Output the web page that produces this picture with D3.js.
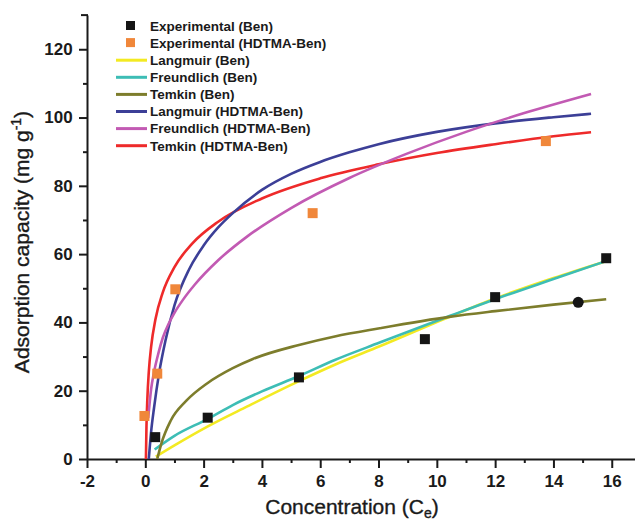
<!DOCTYPE html>
<html>
<head>
<meta charset="utf-8">
<script src="https://cdn.jsdelivr.net/npm/d3@7"></script>
<style>
  html, body { margin: 0; padding: 0; background: #fff; }
  svg { display: block; }
  text { font-family: "Liberation Sans", Arial, sans-serif; fill: #1a1a1a; }
</style>
</head>
<body>
<svg id="chart" width="635" height="523"></svg>
<script>
// ---------- data ----------
const xTicks = [-2, 0, 2, 4, 6, 8, 10, 12, 14, 16];
const yTicks = [0, 20, 40, 60, 80, 100, 120];

// Experimental points
const benC = [0.34, 2.14, 5.27, 9.59, 12.0, 15.81];
const benQ = [6.4, 12.1, 23.9, 35.1, 47.4, 58.8];
const benCircleC = [14.85];
const benCircleQ = [45.9];
const hdC = [-0.03, 0.41, 1.03, 5.74, 13.74];
const hdQ = [12.6, 25.0, 49.7, 72.0, 93.1];

// Model curves
const langBenC = [0.36, 1.0, 2.13, 3.5, 5.27, 6.5, 8.04, 10.48, 12.0, 14.0, 15.75];
const langBenQ = [0.7, 4.0, 9.5, 15.4, 22.8, 27.6, 33.0, 41.8, 47.0, 53.0, 57.8];
const freBenC = [0.32, 1.0, 2.13, 3.0, 4.0, 5.27, 6.5, 8.04, 10.48, 12.0, 14.0, 15.75];
const freBenQ = [2.8, 6.8, 11.7, 15.8, 19.8, 24.3, 29.0, 34.1, 42.0, 46.8, 52.7, 57.8];
const temBenC = [0.41, 0.55, 0.87, 1.4, 2.13, 3.0, 3.69, 5.27, 6.5, 8.04, 10.48, 12.0, 14.0, 15.81];
const temBenQ = [0.0, 4.5, 11.2, 17.0, 22.2, 26.6, 29.3, 33.4, 35.9, 38.3, 41.7, 43.3, 45.2, 46.8];

const langHdC = [0.12, 0.2, 0.3, 0.47, 0.7, 1.0, 1.5, 2.0, 2.5, 3.0, 4.0, 5.0, 6.0, 7.0, 8.0, 10.0, 12.0, 14.0, 15.29];
const langHdQ = [0.0, 8.0, 15.0, 25.0, 35.0, 45.0, 55.5, 62.5, 67.8, 72.0, 78.8, 83.5, 87.0, 89.8, 92.2, 95.8, 98.3, 100.1, 101.1];
const freHdC = [0.1, 0.2, 0.3, 0.45, 0.6, 0.8, 1.0, 1.29, 1.7, 2.5, 3.5, 5.0, 7.0, 9.0, 11.0, 13.0, 15.29];
const freHdQ = [12.0, 20.5, 25.5, 31.0, 35.5, 39.6, 42.8, 46.6, 51.1, 58.2, 65.2, 73.5, 82.3, 89.5, 95.8, 101.3, 106.9];
const temHdC = [0.021, 0.04, 0.07, 0.12, 0.2, 0.35, 0.6, 1.0, 1.6, 2.5, 4.0, 6.0, 8.0, 10.0, 12.0, 14.0, 15.29];
const temHdQ = [0.0, 9.5, 17.6, 25.5, 32.9, 41.0, 48.8, 56.2, 63.0, 69.5, 76.3, 82.2, 86.3, 89.6, 92.2, 94.5, 95.7];

const seriesNames = ["Experimental (Ben)", "Experimental (HDTMA-Ben)", "Langmuir (Ben)", "Freundlich (Ben)",
  "Temkin (Ben)", "Langmuir (HDTMA-Ben)", "Freundlich (HDTMA-Ben)", "Temkin (HDTMA-Ben)"];
const seriesColors = ["#151515", "#f0873a", "#f3ea22", "#3dbdb5", "#7d7d2c", "#3c3f97", "#c25ab3", "#ee2a2a"];

// ---------- chart ----------
const svg = d3.select("#chart");
const x = d3.scaleLinear().domain([-2, 17]).range([87, 640.9]);
const y = d3.scaleLinear().domain([0, 130]).range([459, 15.1]);

const axisColor = "#1a1a1a";
const fmt = d => String(d);

// minor ticks
const xMinor = d3.range(-1, 17, 2);
const yMinor = d3.range(10, 130, 20);

const gx = svg.append("g").attr("transform", "translate(0,459)");
gx.call(d3.axisBottom(x).tickValues(xTicks).tickSize(9).tickSizeOuter(0).tickFormat(fmt));
const gxm = svg.append("g").attr("transform", "translate(0,459)");
gxm.call(d3.axisBottom(x).tickValues(xMinor).tickSize(4).tickSizeOuter(0).tickFormat(""));
gxm.select(".domain").remove();

const gy = svg.append("g").attr("transform", "translate(87,0)");
gy.call(d3.axisLeft(y).tickValues(yTicks).tickSize(8).tickSizeOuter(0).tickFormat(fmt));
const gym = svg.append("g").attr("transform", "translate(87,0)");
gym.call(d3.axisLeft(y).tickValues(yMinor).tickSize(4).tickSizeOuter(0).tickFormat(""));
gym.select(".domain").remove();

[gx, gxm, gy, gym].forEach(g => {
  g.selectAll(".domain").attr("stroke", axisColor).attr("stroke-width", 2);
  g.selectAll(".tick line").attr("stroke", axisColor).attr("stroke-width", 2);
});
// top cap of y-axis
svg.append("line").attr("x1", 81).attr("x2", 88).attr("y1", y(130)).attr("y2", y(130))
  .attr("stroke", axisColor).attr("stroke-width", 2);

gx.selectAll(".tick text").attr("font-size", 17).attr("font-weight", "bold")
  .attr("font-family", "Liberation Sans, Arial, sans-serif").attr("fill", "#1a1a1a").attr("dy", "0.95em");
gy.selectAll(".tick text").attr("font-size", 17).attr("font-weight", "bold")
  .attr("font-family", "Liberation Sans, Arial, sans-serif").attr("fill", "#1a1a1a").attr("dx", "-0.2em");

// axis titles
const xt = svg.append("text").attr("x", 352).attr("y", 514).attr("text-anchor", "middle")
  .attr("font-size", 21).attr("stroke", "#1a1a1a").attr("stroke-width", 0.35);
xt.append("tspan").text("Concentration (C");
xt.append("tspan").attr("font-size", 14).attr("dy", 4).text("e");
xt.append("tspan").attr("dy", -4).text(")");

const yt = svg.append("text").attr("transform", "translate(29,242) rotate(-90)")
  .attr("text-anchor", "middle").attr("font-size", 21).attr("stroke", "#1a1a1a").attr("stroke-width", 0.35);
yt.append("tspan").text("Adsorption capacity (mg g");
yt.append("tspan").attr("font-size", 14).attr("dy", -8).text("-1");
yt.append("tspan").attr("dy", 8).text(")");

// curves
const line = d3.line().x(d => x(d[0])).y(d => y(d[1])).curve(d3.curveMonotoneX);
const curves = [
  [langBenC, langBenQ, seriesColors[2]],
  [freBenC, freBenQ, seriesColors[3]],
  [temBenC, temBenQ, seriesColors[4]],
  [temHdC, temHdQ, seriesColors[7]],
  [langHdC, langHdQ, seriesColors[5]],
  [freHdC, freHdQ, seriesColors[6]],
];
curves.forEach(([cs, qs, col]) => {
  svg.append("path").datum(cs.map((c, i) => [c, qs[i]]))
    .attr("d", line).attr("fill", "none").attr("stroke", col).attr("stroke-width", 2.6)
    .attr("stroke-linecap", "butt");
});

// markers
const sq = 10;
svg.append("g").selectAll("rect").data(hdC.map((c, i) => [c, hdQ[i]])).join("rect")
  .attr("x", d => x(d[0]) - sq / 2).attr("y", d => y(d[1]) - sq / 2)
  .attr("width", sq).attr("height", sq).attr("fill", seriesColors[1]);
svg.append("g").selectAll("rect").data(benC.map((c, i) => [c, benQ[i]])).join("rect")
  .attr("x", d => x(d[0]) - sq / 2).attr("y", d => y(d[1]) - sq / 2)
  .attr("width", sq).attr("height", sq).attr("fill", seriesColors[0]);
svg.append("g").selectAll("circle").data(benCircleC.map((c, i) => [c, benCircleQ[i]])).join("circle")
  .attr("cx", d => x(d[0])).attr("cy", d => y(d[1])).attr("r", 5.5).attr("fill", seriesColors[0]);

// legend
const lg = svg.append("g");
const ly0 = 26, lstep = 17.1;
seriesNames.forEach((name, i) => {
  const yy = ly0 + i * lstep;
  if (i < 2) {
    lg.append("rect").attr("x", 126).attr("y", yy - 5).attr("width", 9).attr("height", 9)
      .attr("fill", seriesColors[i]);
  } else {
    lg.append("line").attr("x1", 116).attr("x2", 147).attr("y1", yy).attr("y2", yy)
      .attr("stroke", seriesColors[i]).attr("stroke-width", 3);
  }
  lg.append("text").attr("x", 150).attr("y", yy + 4.8).attr("font-size", 13.5)
    .attr("font-weight", "bold").text(name);
});
</script>
</body>
</html>
